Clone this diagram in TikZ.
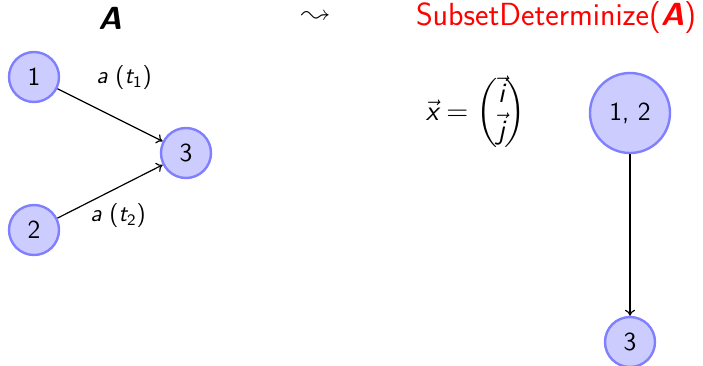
\documentclass[tikz,border=0pt]{standalone}
\usepackage{amsmath}
\usepackage{latexsym}
\usetikzlibrary{arrows.meta}
\newcommand{\si}[1]{\text{\sffamily\itshape #1}}
\newcommand{\sn}[1]{\text{\sffamily #1}}
\tikzset{
  st/.style={circle, draw=blue!50, fill=blue!20, line width=1.2pt, minimum size=25pt, inner sep=1pt, font=\fontsize{13}{15}\selectfont\sffamily},
  tr/.style={-{To[length=3pt,width=5pt]}, line width=0.6pt},
  lbl/.style={font=\fontsize{12}{14}\selectfont\sffamily}
}
\begin{document}
\begin{tikzpicture}[x=0.5pt,y=-0.5pt]
\useasboundingbox (0,0) rectangle (703,365);
\node[font=\fontsize{16}{18}\selectfont\sffamily\bfseries\itshape] (tA) at (110,18) {A};
\node[font=\fontsize{14}{16}\selectfont] (sq) at (316,17) {$\leadsto$};
\node[font=\fontsize{16}{18}\selectfont\sffamily, text=red] (tS) at (556,18) {SubsetDeterminize(\textbf{\textit{A}})};
\node[st] (n1) at (34,77) {1};
\node[st] (n2) at (34,230) {2};
\node[st] (n3) at (186,153) {3};
\draw[tr] (n1) -- (n3);
\draw[tr] (n2) -- (n3);
\node[lbl] (l1) at (124,78) {$\si{a}$ ($\si{t}_{\sn{1}}$)};
\node[lbl] (l2) at (118,216) {$\si{a}$ ($\si{t}_{\sn{2}}$)};
\node[font=\fontsize{14}{17}\selectfont] (mx) at (476,113) {$\vec{\si{x}} = \begin{pmatrix}\vec{\si{i}}\\ \vec{\si{j}}\end{pmatrix}$};
\node[st, minimum size=40pt] (m12) at (630,113) {1, 2};
\node[st] (m3) at (630,342) {3};
\draw[tr] (m12) -- (m3);
\end{tikzpicture}
\end{document}
